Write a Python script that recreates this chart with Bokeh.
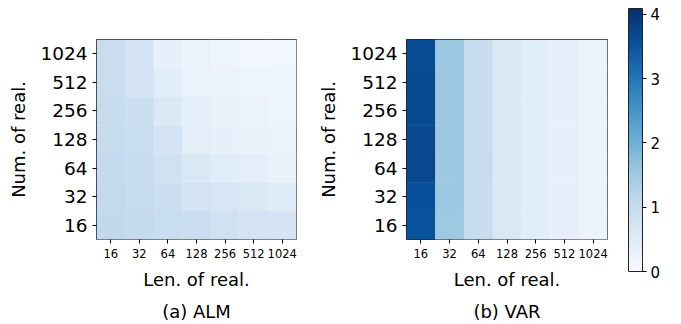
from bokeh.plotting import figure
from bokeh.models import (ColumnDataSource, LinearColorMapper, ColorBar, FixedTicker,
                          Range1d, LinearAxis)
from bokeh.palettes import Blues256
from bokeh.layouts import row
from bokeh.embed import file_html
from bokeh.resources import INLINE

# categories
len_real = [16, 32, 64, 128, 256, 512, 1024]
num_real = [16, 32, 64, 128, 256, 512, 1024]

# ALM values: one list per "Num. of real." (rows), across "Len. of real." (columns)
alm_16 = [1.10, 1.04, 0.97, 0.95, 0.80, 0.76, 0.72]
alm_32 = [1.08, 1.02, 0.93, 0.76, 0.68, 0.62, 0.48]
alm_64 = [1.05, 0.98, 0.80, 0.62, 0.47, 0.42, 0.30]
alm_128 = [1.02, 0.96, 0.73, 0.43, 0.34, 0.30, 0.26]
alm_256 = [1.00, 0.90, 0.58, 0.37, 0.30, 0.27, 0.22]
alm_512 = [0.97, 0.76, 0.45, 0.28, 0.24, 0.22, 0.20]
alm_1024 = [0.95, 0.72, 0.35, 0.27, 0.20, 0.14, 0.14]

# VAR values
var_16 = [3.55, 1.54, 1.00, 0.62, 0.45, 0.34, 0.24]
var_32 = [3.58, 1.55, 1.00, 0.62, 0.45, 0.34, 0.24]
var_64 = [3.72, 1.56, 1.01, 0.62, 0.45, 0.34, 0.24]
var_128 = [3.70, 1.55, 1.00, 0.62, 0.45, 0.34, 0.24]
var_256 = [3.68, 1.55, 1.00, 0.62, 0.45, 0.34, 0.24]
var_512 = [3.68, 1.55, 1.00, 0.62, 0.45, 0.34, 0.24]
var_1024 = [3.65, 1.55, 1.00, 0.62, 0.45, 0.34, 0.24]

alm = [alm_16, alm_32, alm_64, alm_128, alm_256, alm_512, alm_1024]
var = [var_16, var_32, var_64, var_128, var_256, var_512, var_1024]

color_low = 0.0
color_high = 4.09
cbar_ticks = [0, 1, 2, 3, 4]

FONT = "DejaVu Sans"
palette = list(reversed(Blues256))
mapper = LinearColorMapper(palette=palette, low=color_low, high=color_high)


def heat(mat, caption, border_right):
    xs, ys, vs = [], [], []
    for i, _ in enumerate(num_real):
        for j, _ in enumerate(len_real):
            xs.append(j)
            ys.append(i)
            vs.append(mat[i][j])
    src = ColumnDataSource(dict(x=xs, y=ys, v=vs))
    p = figure(width=310, height=324, output_backend="svg", toolbar_location=None,
               x_range=Range1d(-0.5, len(len_real) - 0.5),
               y_range=Range1d(-0.5, len(num_real) - 0.5),
               min_border_left=96, min_border_right=border_right,
               min_border_top=39, min_border_bottom=85)
    p.rect(x="x", y="y", width=1, height=1, source=src,
           fill_color={"field": "v", "transform": mapper}, line_color=None, dilate=True)
    p.grid.visible = False
    p.outline_line_color = "#222222"
    p.outline_line_width = 1
    p.background_fill_color = None
    p.border_fill_color = "white"

    p.xaxis.ticker = FixedTicker(ticks=list(range(len(len_real))))
    p.xaxis.major_label_overrides = {i: str(c) for i, c in enumerate(len_real)}
    p.yaxis.ticker = FixedTicker(ticks=list(range(len(num_real))))
    p.yaxis.major_label_overrides = {i: str(c) for i, c in enumerate(num_real)}
    for ax in (p.xaxis[0], p.yaxis[0]):
        ax.axis_line_color = None
        ax.major_tick_in = 0
        ax.major_tick_out = 4
        ax.major_tick_line_color = "black"
        ax.minor_tick_line_color = None
        ax.major_label_text_font = FONT
        ax.axis_label_text_font = FONT
        ax.axis_label_text_font_style = "normal"
        ax.axis_label_text_color = "black"
        ax.major_label_text_color = "black"
        ax.axis_label_text_font_size = "18px"
    p.xaxis.major_label_text_font_size = "11.5px"
    p.xaxis.major_label_standoff = 5
    p.xaxis.axis_label = "Len. of real."
    p.xaxis.axis_label_standoff = 8
    p.yaxis.major_label_text_font_size = "18.5px"
    p.yaxis.major_label_standoff = 5
    p.yaxis.axis_label = "Num. of real."
    p.yaxis.axis_label_standoff = 8

    cap = LinearAxis(ticker=FixedTicker(ticks=[]), axis_label=caption,
                     axis_line_color=None, major_tick_line_color=None,
                     minor_tick_line_color=None, major_label_text_font_size="0px",
                     axis_label_standoff=8, axis_label_text_font=FONT,
                     axis_label_text_font_size="18px", axis_label_text_font_style="normal",
                     axis_label_text_color="black")
    p.add_layout(cap, "below")
    return p


p1 = heat(alm, "(a) ALM", 14)
p2 = heat(var, "(b) VAR", 13)

# colour-bar panel: its frame is aligned with the heatmaps (y 39..239),
# the bar itself is placed in screen pixels from the frame's bottom-left corner
p3 = figure(width=61, height=324, output_backend="svg", toolbar_location=None,
            x_range=Range1d(0, 1), y_range=Range1d(0, 1),
            x_axis_location=None, y_axis_location=None,
            min_border_left=0, min_border_right=0, min_border_top=39, min_border_bottom=85)
p3.outline_line_color = None
p3.grid.visible = False
p3.background_fill_color = None
cb = ColorBar(color_mapper=mapper, width=14, height=263, padding=0, margin=0,
              location=(8, -32),
              ticker=FixedTicker(ticks=cbar_ticks),
              major_tick_in=0, major_tick_out=4, major_tick_line_color="black",
              bar_line_color="#222222", label_standoff=4,
              major_label_text_font=FONT, major_label_text_font_size="15px",
              major_label_text_color="black",
              background_fill_color=None, border_line_color=None)
p3.add_layout(cb, "center")

layout = row(p1, p2, p3)
open("out.html", "w").write(file_html(layout, INLINE))
